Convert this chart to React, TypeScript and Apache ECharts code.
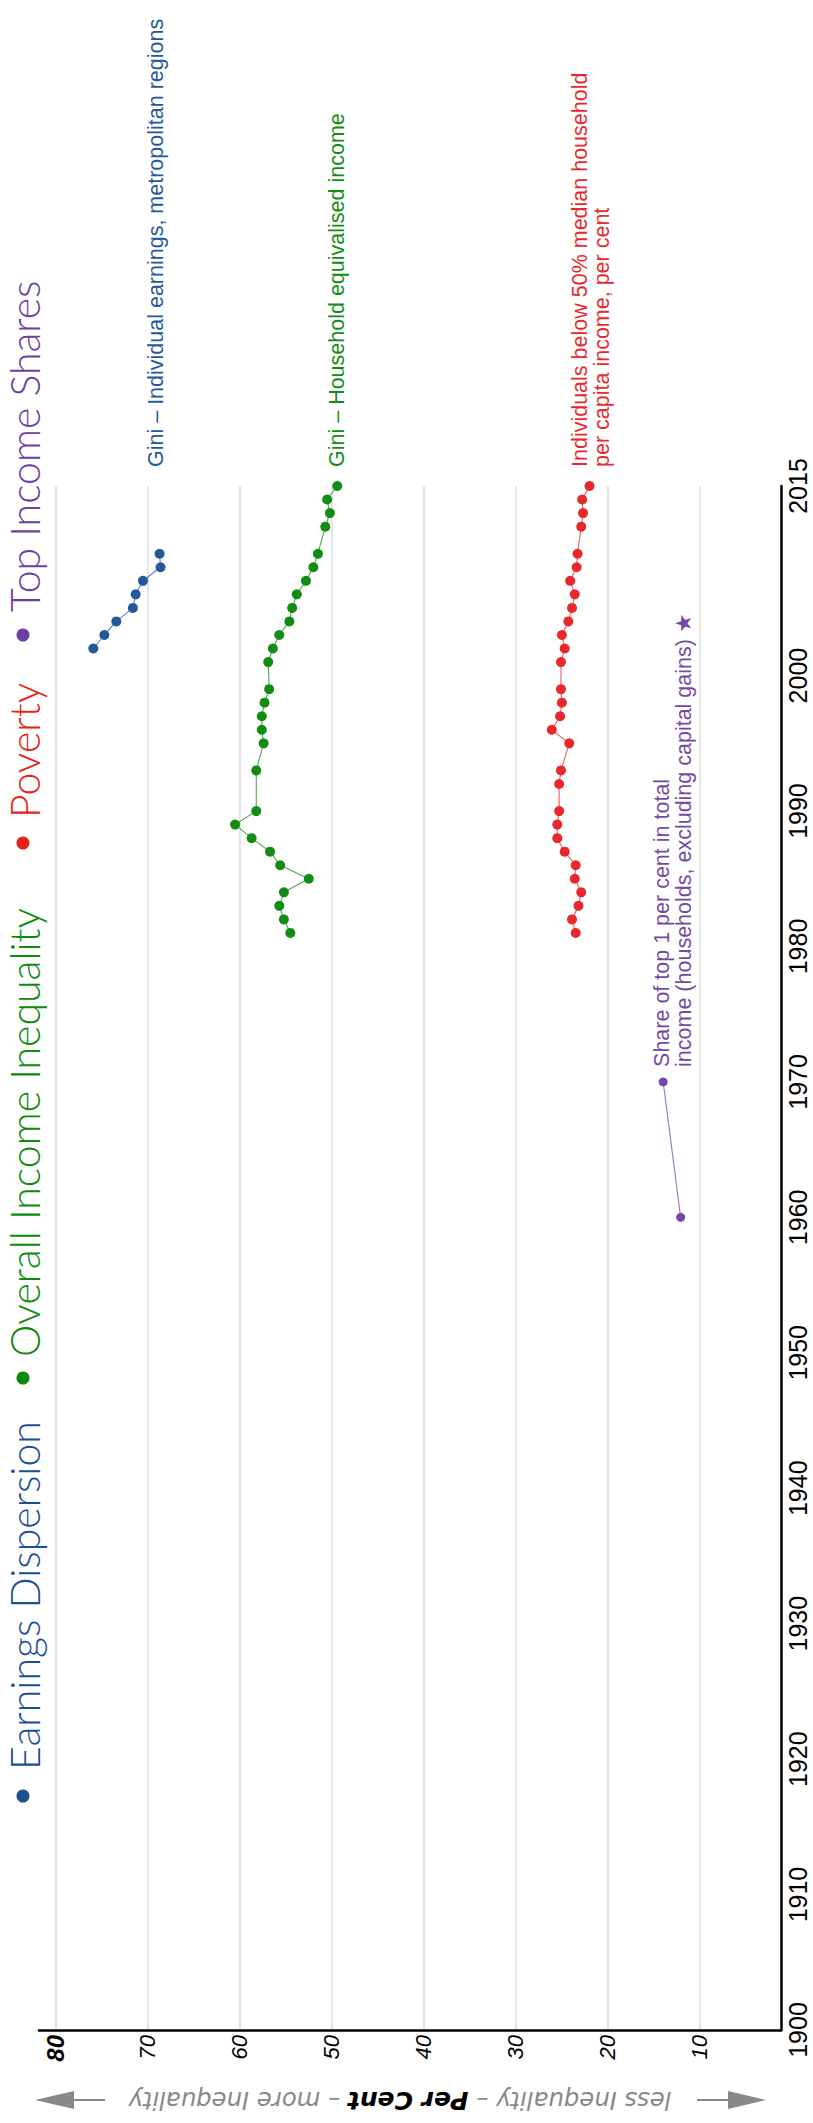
import React, { useEffect, useRef } from "react";
import * as echarts from "echarts";

// ---- Data ----
const yearTicks = [1900, 1910, 1920, 1930, 1940, 1950, 1960, 1970, 1980, 1990, 2000];
const yearAxisEnd = 2014;
const yearAxisEndLabel = "2015";
const valueTicks = [10, 20, 30, 40, 50, 60, 70, 80];

const earningsYears = [2002, 2003, 2004, 2005, 2006, 2007, 2008, 2009];
const earningsGini = [75.9, 74.7, 73.4, 71.6, 71.3, 70.5, 68.6, 68.7];

const incomeYears = [
  1981, 1982, 1983, 1984, 1985, 1986, 1987, 1988, 1989, 1990, 1993, 1995, 1996, 1997, 1998,
  1999, 2001, 2002, 2003, 2004, 2005, 2006, 2007, 2008, 2009, 2011, 2012, 2013, 2014,
];
const incomeGini = [
  54.5, 55.2, 55.7, 55.2, 52.5, 55.6, 56.7, 58.7, 60.5, 58.2, 58.2, 57.4, 57.6, 57.6, 57.3,
  56.8, 56.9, 56.4, 55.7, 54.6, 54.3, 53.8, 52.8, 52.0, 51.5, 50.7, 50.2, 50.5, 49.4,
];

const povertyYears = [
  1981, 1982, 1983, 1984, 1985, 1986, 1987, 1988, 1989, 1990, 1992, 1993, 1995, 1996, 1997,
  1998, 1999, 2001, 2002, 2003, 2004, 2005, 2006, 2007, 2008, 2009, 2011, 2012, 2013, 2014,
];
const povertyRate = [
  23.5, 23.9, 23.2, 22.9, 23.6, 23.5, 24.7, 25.5, 25.5, 25.3, 25.3, 25.1, 24.2, 26.1, 25.2,
  25.0, 25.1, 25.1, 24.7, 25.0, 24.3, 23.9, 23.6, 24.1, 23.4, 23.3, 22.9, 22.7, 22.8, 22.0,
];

const topYears = [1960, 1970];
const topShare = [12.1, 14.0];

// ---- Colours ----
const BLUE = "#23599a";
const GREEN = "#138c13";
const RED = "#e8282d";
const PURPLE = "#7449a6";

const SANS = "'Liberation Sans', Arial, Helvetica, sans-serif";

function lineSeries(name: string, years: number[], vals: number[], color: string, size: number) {
  return {
    type: "line",
    name,
    data: years.map((y, i) => [vals[i], y]),
    symbol: "circle",
    symbolSize: size,
    showSymbol: true,
    itemStyle: { color, opacity: 1 },
    lineStyle: { color, width: 1.1, opacity: 0.75 },
    silent: true,
    z: 3,
  };
}

export default function App() {
  const ref = useRef<HTMLDivElement>(null);

  useEffect(() => {
    document.body.style.margin = "0";
    if (!ref.current) return;
    const chart = echarts.init(ref.current, null, { renderer: "svg" });

    const option: any = {
      animation: false,
      backgroundColor: "#ffffff",
      grid: { left: 39, right: 32, top: 486, bottom: 93, containLabel: false },
      xAxis: {
        type: "value",
        inverse: true,
        min: 1.2,
        max: 81.8,
        position: "bottom",
        axisLine: { show: true, onZero: false, lineStyle: { color: "#000", width: 2.5 } },
        axisTick: { show: false, customValues: valueTicks },
        axisLabel: {
          customValues: valueTicks,
          rotate: 90,
          margin: 5,
          fontSize: 22,
          fontStyle: "italic",
          fontFamily: SANS,
          color: "#000",
          formatter: (v: number) => (v === 80 ? "{b|80}" : String(v)),
          rich: {
            b: { fontSize: 24, fontWeight: "bold", fontStyle: "italic", fontFamily: SANS, color: "#000" },
          },
        },
        splitLine: { show: true, lineStyle: { color: "#e0e0e0", width: 1.6 } },
      },
      yAxis: {
        type: "value",
        position: "right",
        min: 1900,
        max: yearAxisEnd,
        axisLine: { show: true, onZero: false, lineStyle: { color: "#000", width: 2.5 } },
        axisTick: { show: false, customValues: [...yearTicks, yearAxisEnd] },
        axisLabel: {
          customValues: [...yearTicks, yearAxisEnd],
          rotate: 90,
          margin: 4,
          fontSize: 25,
          fontFamily: SANS,
          color: "#000",
          formatter: (v: number) => (v === yearAxisEnd ? yearAxisEndLabel : String(v)),
        },
        splitLine: { show: false },
      },
      series: [
        lineSeries("Earnings Dispersion", earningsYears, earningsGini, BLUE, 10),
        lineSeries("Overall Income Inequality", incomeYears, incomeGini, GREEN, 10),
        lineSeries("Poverty", povertyYears, povertyRate, RED, 10),
        lineSeries("Top Income Shares", topYears, topShare, PURPLE, 9),
      ],
    };
    chart.setOption(option);

    const px = (v: number, yr: number) => chart.convertToPixel({ gridIndex: 0 }, [v, yr]) as number[];
    const topY = px(0, yearAxisEnd)[1];
    const annY = topY - 19;
    const last = (a: number[]) => a[a.length - 1];

    const annStyle = (text: string, fill: string) => ({
      text,
      fill,
      fontFamily: SANS,
      fontSize: 21.5,
      lineHeight: 22.5,
      align: "left",
      verticalAlign: "middle",
    });

    const blueX = px(last(earningsGini), last(earningsYears))[0] - 4;
    const greenX = px(last(incomeGini), last(incomeYears))[0];
    const redX = px(last(povertyRate), last(povertyYears))[0] + 1.5;
    const purplePt = px(last(topShare), last(topYears));

    const titleFont = { fontFamily: "Lato, 'Open Sans', sans-serif", fontSize: 41, fontWeight: 300 };
    const titleParts = [
      { text: "Earnings Dispersion", color: "#1c4f91", bulletY: 1796, startY: 1770 },
      { text: "Overall Income Inequality", color: "#0c8a0c", bulletY: 1378, startY: 1357 },
      { text: "Poverty", color: "#e62319", bulletY: 843, startY: 818 },
      { text: "Top Income Shares", color: "#6c40a3", bulletY: 635, startY: 612 },
    ];

    const graphics: any[] = [];
    titleParts.forEach((p) => {
      graphics.push({
        type: "circle",
        shape: { cx: 23, cy: p.bulletY, r: 6.5 },
        style: { fill: p.color },
        silent: true,
      });
      graphics.push({
        type: "text",
        x: 24,
        y: p.startY,
        rotation: Math.PI / 2,
        silent: true,
        style: { text: p.text, fill: p.color, ...titleFont, align: "left", verticalAlign: "middle" },
      });
    });

    graphics.push(
      {
        type: "text",
        x: blueX,
        y: annY,
        rotation: Math.PI / 2,
        silent: true,
        style: annStyle("Gini – Individual earnings, metropolitan regions", BLUE),
      },
      {
        type: "text",
        x: greenX,
        y: annY,
        rotation: Math.PI / 2,
        silent: true,
        style: annStyle("Gini – Household equivalised income", GREEN),
      },
      {
        type: "text",
        x: redX,
        y: annY,
        rotation: Math.PI / 2,
        silent: true,
        style: annStyle("Individuals below 50% median household\nper capita income, per cent", RED),
      },
      {
        type: "text",
        x: purplePt[0] + 10,
        y: purplePt[1] - 15,
        rotation: Math.PI / 2,
        silent: true,
        style: annStyle("Share of top 1 per cent in total\nincome (households, excluding capital gains) ★", PURPLE),
      }
    );

    // Axis title (upside down) with arrows
    const arrowY = 2100;
    const GRAY = "#888888";
    graphics.push(
      {
        type: "text",
        x: 400,
        y: arrowY,
        rotation: Math.PI,
        silent: true,
        style: {
          text: "{g|less Inequality – }{b|Per Cent}{g| – more Inequality}",
          align: "center",
          verticalAlign: "middle",
          rich: {
            g: { fill: GRAY, fontFamily: "'DejaVu Sans', sans-serif", fontSize: 24.3, fontStyle: "italic" },
            b: {
              fill: "#000",
              fontFamily: "'DejaVu Sans', sans-serif",
              fontSize: 25,
              fontStyle: "italic",
              fontWeight: "bold",
            },
          },
        },
      },
      {
        type: "line",
        silent: true,
        shape: { x1: 73, y1: arrowY, x2: 105, y2: arrowY },
        style: { stroke: GRAY, lineWidth: 2 },
      },
      {
        type: "polygon",
        silent: true,
        shape: { points: [[35, arrowY], [74, arrowY - 9], [74, arrowY + 9]] },
        style: { fill: GRAY },
      },
      {
        type: "line",
        silent: true,
        shape: { x1: 697, y1: arrowY, x2: 729, y2: arrowY },
        style: { stroke: GRAY, lineWidth: 2 },
      },
      {
        type: "polygon",
        silent: true,
        shape: { points: [[766, arrowY], [728, arrowY - 9], [728, arrowY + 9]] },
        style: { fill: GRAY },
      }
    );

    chart.setOption({ graphic: graphics });

    return () => {
      chart.dispose();
    };
  }, []);

  return <div ref={ref} style={{ width: 813, height: 2123 }} />;
}
